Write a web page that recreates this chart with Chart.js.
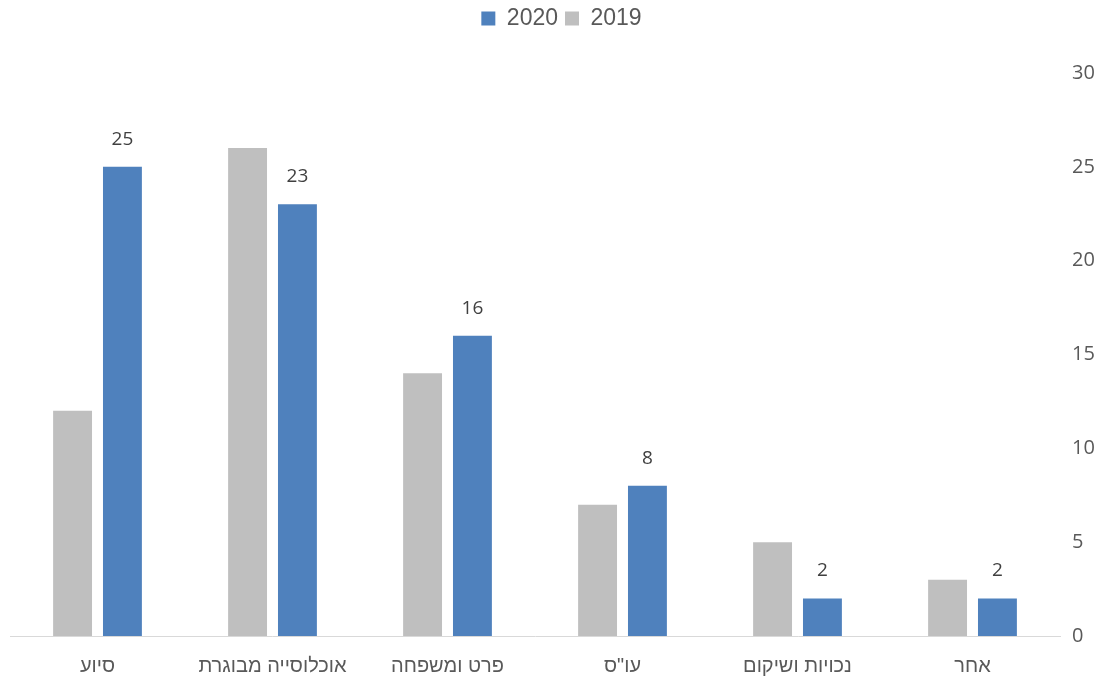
<!DOCTYPE html>
<html>
<head>
<meta charset="utf-8">
<script src="https://cdn.jsdelivr.net/npm/chart.js@4"></script>
<style>
  html, body { margin: 0; padding: 0; background: #fff; }
  #wrap { width: 1113px; height: 681px; }
</style>
</head>
<body>
<div id="wrap"><canvas id="barChart"></canvas></div>
<script>
'use strict';

const categories = ['סיוע', 'אוכלוסייה מבוגרת', 'פרט ומשפחה', 'עו"ס', 'נכויות ושיקום', 'אחר'];
const values2019 = [12, 26, 14, 7, 5, 3];
const values2020 = [25, 23, 16, 8, 2, 2];
const yTicks = [0, 5, 10, 15, 20, 25, 30];

// value labels above the 2020 bars only
const valueLabels = {
  id: 'valueLabels',
  afterDatasetsDraw(chart) {
    const ctx = chart.ctx;
    const meta = chart.getDatasetMeta(1);
    ctx.save();
    ctx.font = '19px "Open Sans"';
    ctx.fillStyle = '#404040';
    ctx.textAlign = 'center';
    ctx.textBaseline = 'bottom';
    meta.data.forEach(function(bar, i) {
      ctx.fillText(values2020[i], bar.x, bar.y - 18);
    });
    ctx.restore();
  }
};

// extra room under the legend
const legendGap = {
  id: 'legendGap',
  beforeInit(chart) {
    const origFit = chart.legend.fit;
    chart.legend.fit = function() {
      origFit.bind(chart.legend)();
      this.height += 33;
    };
  }
};

const ctx = document.getElementById('barChart');

let barChart = new Chart(ctx, {
  type: 'bar',
  data: {
    labels: categories,
    datasets: [
      {
        label: '2019',
        data: values2019,
        backgroundColor: '#bfbfbf'
      },
      {
        label: '2020',
        data: values2020,
        backgroundColor: '#4f81bd'
      }
    ]
  },
  options: {
    responsive: true,
    maintainAspectRatio: false,
    animation: false,
    categoryPercentage: 0.57,
    barPercentage: 0.78,
    layout: {
      padding: { left: 10, right: 0, top: 0, bottom: -7 }
    },
    plugins: {
      legend: {
        position: 'top',
        reverse: true,
        labels: {
          boxWidth: 14,
          boxHeight: 14,
          padding: 7,
          color: '#595959',
          font: { family: '"Liberation Sans", Arial', size: 23 }
        }
      },
      tooltip: { enabled: false }
    },
    scales: {
      x: {
        grid: { display: false },
        border: { color: '#d9d9d9', width: 1 },
        ticks: {
          color: '#595959',
          padding: 10,
          font: { family: '"Liberation Sans", Arial', size: 20 }
        }
      },
      y: {
        position: 'right',
        min: 0,
        max: 30,
        afterBuildTicks: function(axis) {
          axis.ticks = yTicks.map(function(v) { return { value: v }; });
        },
        afterFit: function(axis) {
          axis.width = 53;
        },
        grid: { display: false },
        border: { display: false },
        ticks: {
          color: '#595959',
          padding: 4,
          font: { family: '"Open Sans"', size: 20 }
        }
      }
    }
  },
  plugins: [valueLabels, legendGap]
});
</script>
</body>
</html>
